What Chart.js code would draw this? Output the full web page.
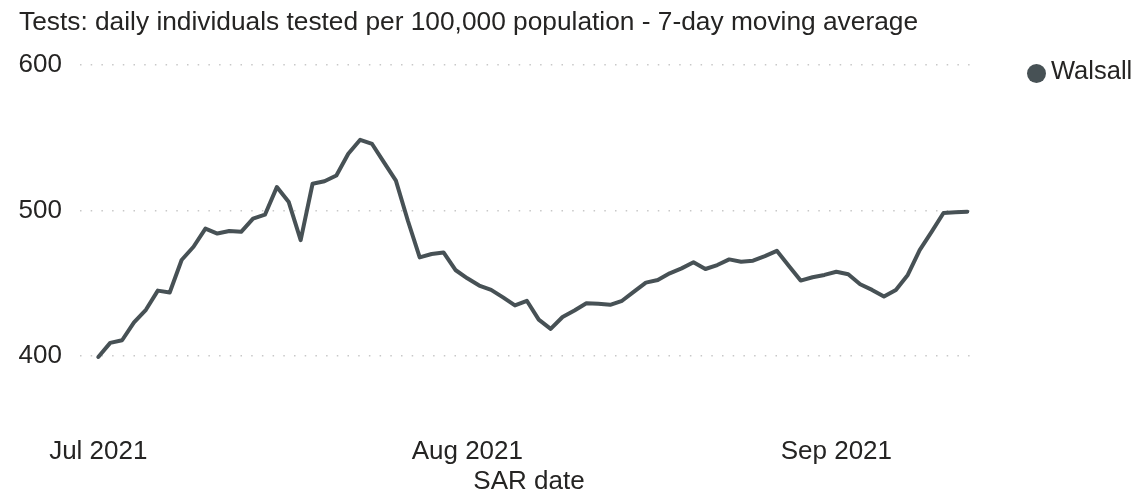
<!DOCTYPE html>
<html>
<head>
<meta charset="utf-8">
<script src="https://cdn.jsdelivr.net/npm/chart.js@4/dist/chart.umd.min.js"></script>
<style>
  html, body { margin: 0; padding: 0; background: #ffffff; }
  #wrap { width: 1139px; height: 502px; position: relative; }
</style>
</head>
<body>
<div id="wrap"><canvas id="c" width="1139" height="502"></canvas></div>
<script>
// ---- Data (days since 1 Jul 2021) ----
const seriesName = 'Walsall';
const startDate = '2021-07-01';
const walsallValues = [
  399.0, 408.7, 410.5, 422.8, 431.5, 444.7, 443.4, 465.8, 474.9, 487.4,
  484.0, 485.8, 485.2, 494.3, 497.0, 516.0, 505.7, 479.5, 518.3, 520.0,
  524.0, 539.0, 548.6, 545.7, 533.0, 520.5, 493.0, 467.6, 469.9, 471.0,
  458.9, 453.2, 448.2, 445.2, 440.0, 434.5, 437.7, 424.7, 418.3, 426.5,
  431.0, 436.0, 435.6, 434.9, 437.7, 444.0, 450.2, 452.0, 456.6, 460.0,
  464.2, 459.6, 462.3, 466.2, 464.6, 465.3, 468.5, 472.1, 461.9, 451.6,
  453.9, 455.5, 457.7, 456.0, 449.1, 445.2, 440.6, 445.2, 455.5, 472.6,
  485.1, 498.2, 498.6, 499.1
];
const xTickDays = [0, 31, 62];
const xTickLabels = ['Jul 2021', 'Aug 2021', 'Sep 2021'];
const yTickValues = [400, 500, 600];
const titleText = 'Tests: daily individuals tested per 100,000 population - 7-day moving average';
const xAxisTitle = 'SAR date';

// ---- Chart ----
const FONT = "'Liberation Sans', Arial, sans-serif";
const TEXT = '#252423';
const LINE = '#475155';

const points = walsallValues.map((v, i) => ({ x: i, y: v }));

const legendPlugin = {
  id: 'customLegend',
  afterDraw(chart) {
    const ctx = chart.ctx;
    const ds = chart.data.datasets[0];
    ctx.save();
    ctx.fillStyle = ds.borderColor;
    ctx.beginPath();
    ctx.arc(1036.5, 73.5, 9.5, 0, Math.PI * 2);
    ctx.fill();
    ctx.fillStyle = TEXT;
    ctx.font = '25.5px ' + FONT;
    ctx.textBaseline = 'middle';
    ctx.textAlign = 'left';
    ctx.fillText(ds.label, 1051, 71.5);
    ctx.restore();
  }
};

new Chart(document.getElementById('c'), {
  type: 'line',
  data: {
    datasets: [{
      label: seriesName,
      data: points,
      borderColor: LINE,
      backgroundColor: LINE,
      borderWidth: 4,
      pointRadius: 0,
      tension: 0,
      borderJoinStyle: 'round',
      borderCapStyle: 'round',
      clip: false
    }]
  },
  options: {
    responsive: false,
    animation: false,
    devicePixelRatio: 1,
    layout: { autoPadding: false, padding: { left: 19, right: 161, top: 0, bottom: 0 } },
    plugins: {
      legend: { display: false },
      tooltip: { enabled: false },
      title: {
        display: true,
        text: titleText,
        align: 'start',
        color: TEXT,
        font: { family: FONT, size: 26.3, weight: 'normal', lineHeight: 1.2 },
        padding: { top: 6.7, bottom: 26.9 }
      }
    },
    scales: {
      x: {
        type: 'linear',
        min: -1.537,
        max: 73.9,
        afterFit(scale) {
          scale.height = 146.5;
          scale.paddingLeft = 0;
          scale.paddingRight = 0;
        },
        afterBuildTicks(scale) { scale.ticks = xTickDays.map(v => ({ value: v })); },
        ticks: {
          autoSkip: false,
          maxRotation: 0,
          padding: 81.2,
          color: TEXT,
          font: { family: FONT, size: 26, lineHeight: 1.2 },
          callback(value) {
            const i = xTickDays.indexOf(value);
            return i >= 0 ? xTickLabels[i] : '';
          }
        },
        grid: { display: false, drawTicks: false },
        border: { display: false },
        title: {
          display: true,
          text: xAxisTitle,
          color: TEXT,
          font: { family: FONT, size: 26, lineHeight: 1.2 },
          padding: { top: 0, bottom: 4.7 }
        }
      },
      y: {
        min: 400,
        max: 600,
        afterFit(scale) { scale.width = 61; },
        afterBuildTicks(scale) { scale.ticks = yTickValues.map(v => ({ value: v })); },
        ticks: {
          padding: 18,
          color: TEXT,
          font: { family: FONT, size: 26, lineHeight: 1.2 }
        },
        grid: {
          drawTicks: false,
          color: '#c8c8c8',
          lineWidth: 1.5
        },
        border: { display: false, dash: [1.5, 9.2] }
      }
    }
  },
  plugins: [legendPlugin]
});
</script>
</body>
</html>
